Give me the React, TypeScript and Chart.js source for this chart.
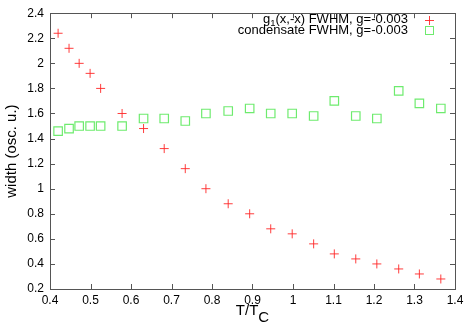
import React, { useEffect, useRef } from "react";
import { Chart, registerables } from "chart.js";

Chart.register(...registerables);

const tempRatio = [0.42, 0.447, 0.472, 0.499, 0.525, 0.578, 0.631, 0.682, 0.734, 0.785, 0.84, 0.893, 0.945, 0.998, 1.051, 1.102, 1.155, 1.207, 1.261, 1.312, 1.365];
const g1Fwhm = [2.24, 2.12, 2.0, 1.92, 1.8, 1.6, 1.48, 1.32, 1.16, 1.0, 0.88, 0.8, 0.68, 0.64, 0.56, 0.48, 0.44, 0.4, 0.36, 0.32, 0.28];
const condensateFwhm = [1.46, 1.48, 1.5, 1.5, 1.5, 1.5, 1.56, 1.56, 1.54, 1.6, 1.62, 1.64, 1.6, 1.6, 1.58, 1.7, 1.58, 1.56, 1.78, 1.68, 1.64];
const seriesLabels = ["g", "condensate FWHM, g=-0.003"];
const xTitle = "T/T";
const yTitle = "width (osc. u.)";

const FONT = '"Liberation Sans", Arial, Helvetica, sans-serif';
const RED = "rgba(255,40,40,0.9)";
const GREEN = "rgb(110,235,110)";

const framePlugin = {
  id: "gnuframe",
  afterDraw(chart: any) {
    const { ctx, chartArea: a, scales } = chart;
    const xs = scales.x, ys = scales.y;
    ctx.save();
    ctx.strokeStyle = "#555";
    ctx.lineWidth = 1;
    ctx.strokeRect(Math.round(a.left) + 0.5, Math.round(a.top) + 0.5, Math.round(a.right - a.left), Math.round(a.bottom - a.top));
    ctx.beginPath();
    const tl = 5;
    xs.ticks.forEach((t: any) => {
      const px = Math.round(xs.getPixelForValue(t.value)) + 0.5;
      ctx.moveTo(px, a.bottom); ctx.lineTo(px, a.bottom - tl);
      ctx.moveTo(px, a.top); ctx.lineTo(px, a.top + tl);
    });
    ys.ticks.forEach((t: any) => {
      const py = Math.round(ys.getPixelForValue(t.value)) + 0.5;
      ctx.moveTo(a.left, py); ctx.lineTo(a.left + tl, py);
      ctx.moveTo(a.right, py); ctx.lineTo(a.right - tl, py);
    });
    ctx.stroke();

    // x title
    ctx.fillStyle = "#000";
    ctx.textBaseline = "alphabetic";
    ctx.font = `15px ${FONT}`;
    const w1 = ctx.measureText(xTitle).width;
    const w2 = ctx.measureText("C").width;
    const cx = (a.left + a.right) / 2;
    const sx = cx - (w1 + w2) / 2;
    ctx.textAlign = "left";
    ctx.fillText(xTitle, sx, 315);
    ctx.fillText("C", sx + w1, 322);

    // y title
    ctx.save();
    ctx.translate(16, (a.top + a.bottom) / 2);
    ctx.rotate(-Math.PI / 2);
    ctx.font = `15px ${FONT}`;
    ctx.textAlign = "center";
    ctx.fillText(yTitle, 0, 0);
    ctx.restore();

    // legend
    const rx = 408;
    ctx.font = `13px ${FONT}`;
    ctx.textAlign = "right";
    const rest = "(x,-x) FWHM, g=-0.003";
    const wr = ctx.measureText(rest).width;
    ctx.fillText(rest, rx, 22.5);
    ctx.font = `9.5px ${FONT}`;
    const w1s = ctx.measureText("1").width;
    ctx.fillText("1", rx - wr, 25.5);
    ctx.font = `13px ${FONT}`;
    ctx.fillText(seriesLabels[0], rx - wr - w1s, 22.5);
    ctx.fillText(seriesLabels[1], rx, 34);

    ctx.strokeStyle = RED;
    ctx.beginPath();
    ctx.moveTo(425, 20.5); ctx.lineTo(434, 20.5);
    ctx.moveTo(429.5, 16); ctx.lineTo(429.5, 25);
    ctx.stroke();
    ctx.strokeStyle = GREEN;
    ctx.strokeRect(425.5, 26.5, 8, 8);
    ctx.restore();
  },
};

export default function App() {
  const ref = useRef<HTMLCanvasElement>(null);
  useEffect(() => {
    if (!ref.current) return;
    const chart = new Chart(ref.current, {
      type: "scatter",
      data: {
        datasets: [
          {
            label: "g1",
            data: tempRatio.map((x, i) => ({ x, y: g1Fwhm[i] })),
            pointStyle: "cross",
            pointRadius: 4.5,
            borderColor: RED,
            backgroundColor: RED,
            borderWidth: 1,
            showLine: false,
          },
          {
            label: seriesLabels[1],
            data: tempRatio.map((x, i) => ({ x, y: condensateFwhm[i] })),
            pointStyle: "rect",
            pointRadius: 6,
            borderColor: GREEN,
            backgroundColor: "rgba(0,0,0,0)",
            borderWidth: 1.2,
            showLine: false,
          },
        ],
      },
      options: {
        responsive: false,
        animation: false,
        layout: { padding: { top: 11, right: 14, left: 0, bottom: 0 } },
        plugins: { legend: { display: false }, tooltip: { enabled: false }, title: { display: false } },
        scales: {
          x: {
            type: "linear",
            min: 0.4,
            max: 1.4,
            grid: { display: false, drawTicks: false },
            border: { display: false },
            afterFit: (s: any) => { s.height = 39; },
            ticks: {
              stepSize: 0.1,
              padding: 4,
              color: "#000",
              font: { family: FONT, size: 12 },
              maxRotation: 0,
              autoSkip: false,
              callback: (v: any) => String(+Number(v).toFixed(2)),
            },
          },
          y: {
            type: "linear",
            min: 0.2,
            max: 2.4,
            grid: { display: false, drawTicks: false },
            border: { display: false },
            afterFit: (s: any) => { s.width = 50; },
            ticks: {
              stepSize: 0.2,
              padding: 6,
              color: "#000",
              font: { family: FONT, size: 12 },
              autoSkip: false,
              callback: (v: any) => String(+Number(v).toFixed(2)),
            },
          },
        },
      },
      plugins: [framePlugin],
    });
    return () => chart.destroy();
  }, []);
  return (
    <div style={{ position: "fixed", left: 0, top: 0, width: 469, height: 328, background: "#fff" }}>
      <canvas ref={ref} width={469} height={328} />
    </div>
  );
}
